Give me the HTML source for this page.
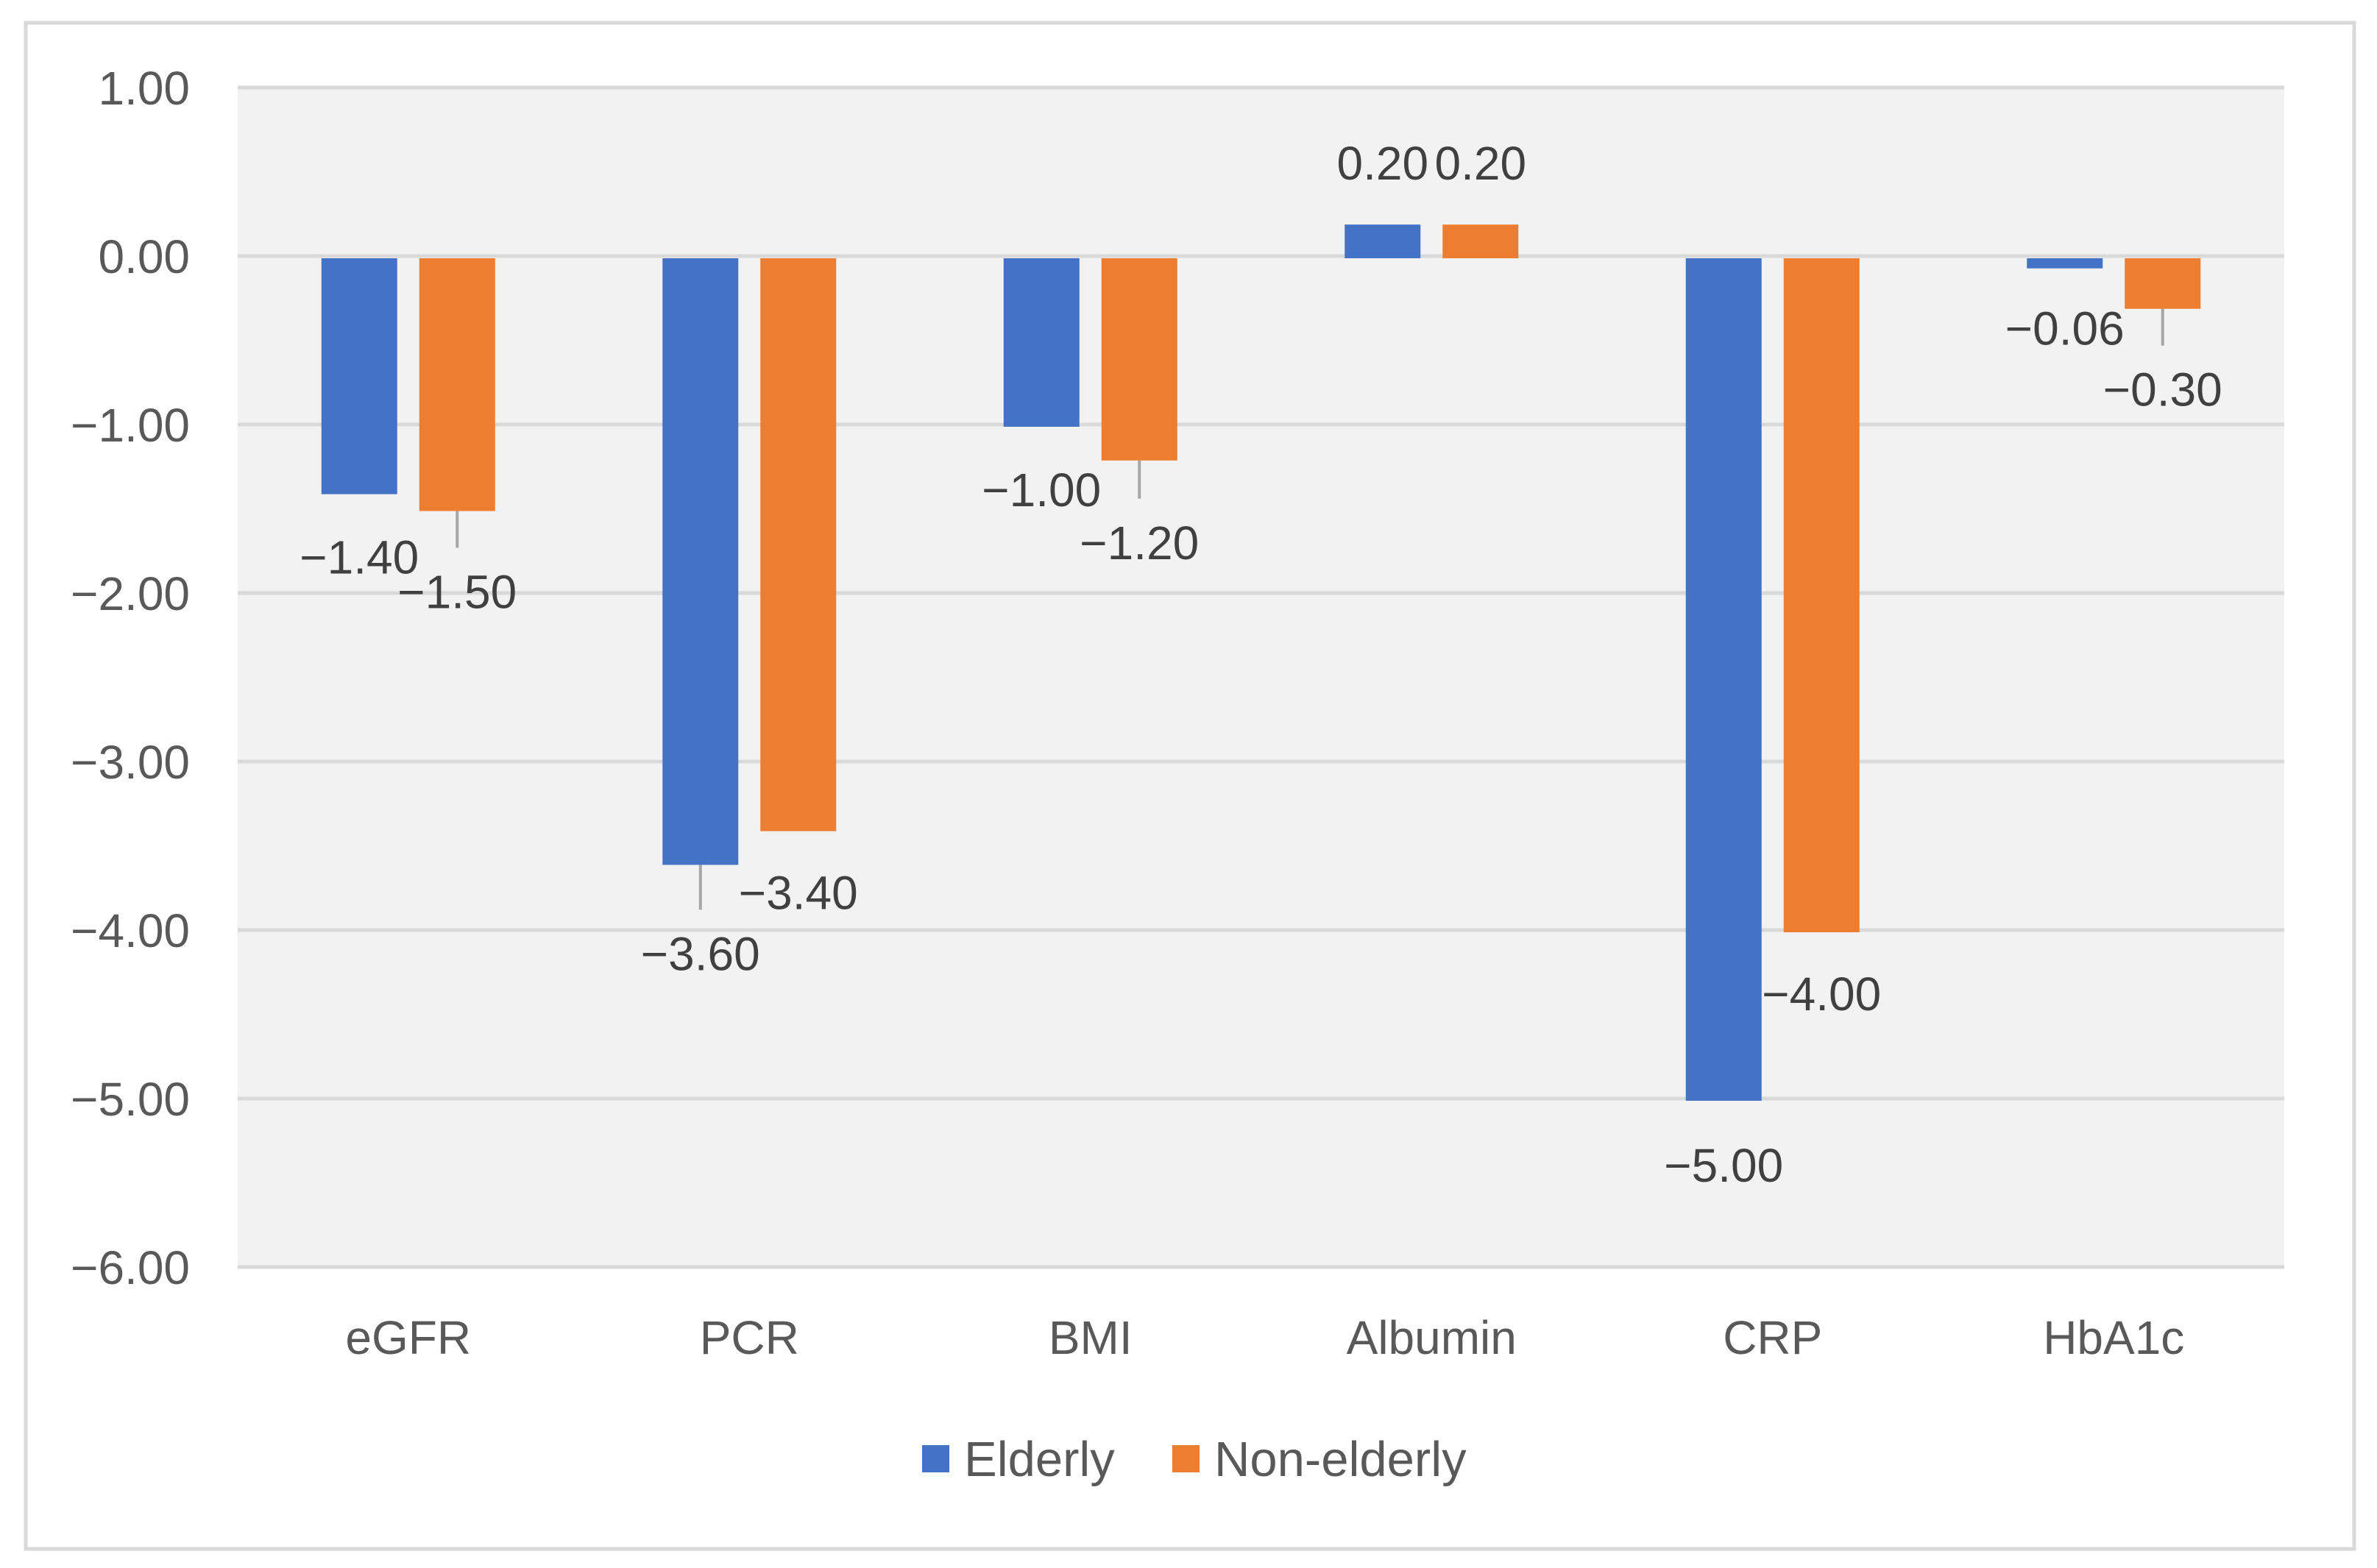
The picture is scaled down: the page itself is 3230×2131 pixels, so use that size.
<!DOCTYPE html>
<html><head><meta charset="utf-8"><style>
html,body{margin:0;padding:0;background:#fff;}
svg{display:block;}
text{font-family:"Liberation Sans",sans-serif;}
</style></head><body>
<svg id="chart" width="3230" height="2131" viewBox="0 0 3230 2131" xmlns="http://www.w3.org/2000/svg">
<rect x="35" y="31" width="3164" height="2074" fill="#fff" stroke="#d9d9d9" stroke-width="5"/>
<rect x="323" y="119" width="2781" height="1603" fill="#f2f2f2"/>
<g id="grid"></g><g id="bars"></g><g id="labels"></g><g id="axes"></g>
<g>
<rect x="1253" y="1964" width="37" height="37" fill="#4472c4"/>
<text x="1310" y="2006" font-size="67" fill="#595959">Elderly</text>
<rect x="1593" y="1964" width="37" height="37" fill="#ed7d31"/>
<text x="1650" y="2006" font-size="67" fill="#595959">Non-elderly</text>
</g>
</svg>
<script>
const categories = ["eGFR","PCR","BMI","Albumin","CRP","HbA1c"];
const elderly = [-1.40,-3.60,-1.00,0.20,-5.00,-0.06];
const nonElderly = [-1.50,-3.40,-1.20,0.20,-4.00,-0.30];
const yTicks = [1,0,-1,-2,-3,-4,-5,-6];
const labelGapElderly = [89,124,89,0,91,85];
const labelGapNon = [113,87,115,0,87,113];

const NS="http://www.w3.org/2000/svg";
const plotL=323, plotR=3104, yTop=119, yBot=1722, yMax=1, yMin=-6;
function y(v){return yTop+(yMax-v)/(yMax-yMin)*(yBot-yTop);}
const bandW=(plotR-plotL)/categories.length;
function xc(i){return plotL+bandW*(i+0.5);}
function mk(tag,attrs,parent){const e=document.createElementNS(NS,tag);for(const k in attrs)e.setAttribute(k,attrs[k]);document.getElementById(parent).appendChild(e);return e;}
function fmt(v){return (v<0?"\u2212":"")+Math.abs(v).toFixed(2);}

yTicks.forEach(t=>{
  const l=mk("line",{x1:plotL,x2:plotR,y1:y(t),y2:y(t),stroke:"#d9d9d9","stroke-width":5},"grid");
  
  
  const tx=mk("text",{x:258,y:y(t)+23,"font-size":64,fill:"#595959","text-anchor":"end"},"axes");
  tx.textContent=fmt(t);
  
  
});
categories.forEach((c,i)=>{
  const tx=mk("text",{x:xc(i),y:1840,"font-size":64,fill:"#595959","text-anchor":"middle"},"axes");
  tx.textContent=c;
  
  
});
const bw=103;
[[elderly,"#4472c4",-118,labelGapElderly,"elderly"],[nonElderly,"#ed7d31",15,labelGapNon,"non-elderly"]].forEach(([vals,col,off,gaps,nm])=>{
  vals.forEach((v,i)=>{
    const x0=xc(i)+off, y0=y(0), y1=y(v);
    const r=mk("rect",{x:x0,y:Math.min(y0,y1)+3,width:bw,height:Math.abs(y1-y0),fill:col},"bars");
    
    
    let ly;
    if(v>=0){ly=y1-58;}
    else{
      ly=y1+gaps[i]+22;
      if(gaps[i]>100){
        const ln=mk("line",{x1:x0+bw/2,x2:x0+bw/2,y1:y1+3,y2:y1+gaps[i]-60,stroke:"#a6a6a6","stroke-width":4},"labels");
        
        
      }
    }
    const t=mk("text",{x:x0+bw/2,y:ly,"font-size":64,fill:"#404040","text-anchor":"middle"},"labels");
    t.textContent=fmt(v);
    
    
  });
});
</script>
</body></html>
